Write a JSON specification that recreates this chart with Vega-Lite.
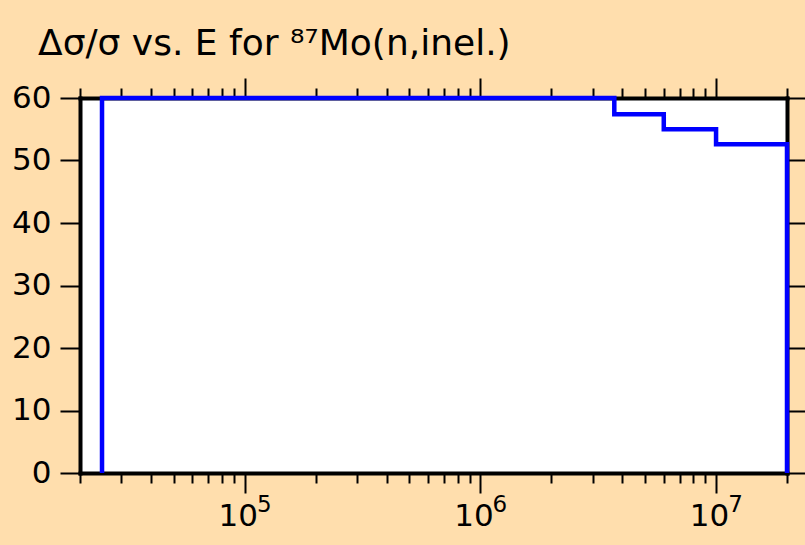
{
  "$schema": "https://vega.github.io/schema/vega-lite/v6.json",
  "width": 707,
  "height": 375,
  "autosize": {"type": "none"},
  "padding": {"left": 80, "top": 98, "right": 18, "bottom": 72},
  "background": "#FFDEAD",
  "title": {
    "text": "Δσ/σ vs. E for ⁸⁷Mo(n,inel.)",
    "anchor": "start",
    "frame": "group",
    "font": "DejaVu Sans",
    "fontSize": 36,
    "fontWeight": "normal",
    "color": "black",
    "dx": -42,
    "offset": 14
  },
  "config": {
    "view": {"fill": "white", "stroke": null},
    "axis": {
      "domainColor": "black",
      "tickColor": "black",
      "tickWidth": 2,
      "labelColor": "black",
      "labelFont": "DejaVu Sans",
      "grid": false,
      "title": null,
      "domainCap": "square",
      "labelFlush": false,
      "labelOverlap": false
    }
  },
  "data": {
    "values": [
      {"i": 0, "E": 24800, "v": 0},
      {"i": 1, "E": 24800, "v": 60},
      {"i": 2, "E": 3700000, "v": 57.4},
      {"i": 3, "E": 6000000, "v": 55.0},
      {"i": 4, "E": 10000000, "v": 52.6},
      {"i": 5, "E": 20000000, "v": 52.6},
      {"i": 6, "E": 20000000, "v": 0}
    ]
  },
  "resolve": {"axis": {"x": "independent", "y": "independent"}},
  "layer": [
    {
      "mark": {"type": "line", "strokeOpacity": 0},
      "encoding": {
        "x": {"field": "E", "type": "quantitative", "scale": {"type": "log", "domain": [20000, 20000000], "nice": false},
          "axis": {"orient": "bottom", "values": [20000, 30000, 40000, 50000, 60000, 70000, 80000, 90000, 200000, 300000, 400000, 500000, 600000, 700000, 800000, 900000, 2000000, 3000000, 4000000, 5000000, 6000000, 7000000, 8000000, 9000000, 20000000], "tickSize": 10, "domain": false, "labels": false}},
        "y": {"field": "v", "type": "quantitative", "scale": {"domain": [0, 60], "nice": false},
          "axis": {"orient": "right", "values": [0, 10, 20, 30, 40, 50, 60], "tickSize": 20, "domainWidth": 4, "labels": false}},
        "order": {"field": "i"}
      }
    },
    {
      "mark": {"type": "line", "strokeOpacity": 0},
      "encoding": {
        "x": {"field": "E", "type": "quantitative",
          "axis": {"orient": "top", "values": [100000, 1000000, 10000000], "tickSize": 20, "domainWidth": 4, "labels": false}},
        "y": {"field": "v", "type": "quantitative", "axis": null},
        "order": {"field": "i"}
      }
    },
    {
      "mark": {"type": "line", "strokeOpacity": 0},
      "encoding": {
        "x": {"field": "E", "type": "quantitative",
          "axis": {"orient": "top", "values": [20000, 30000, 40000, 50000, 60000, 70000, 80000, 90000, 200000, 300000, 400000, 500000, 600000, 700000, 800000, 900000, 2000000, 3000000, 4000000, 5000000, 6000000, 7000000, 8000000, 9000000, 20000000], "tickSize": 10, "domain": false, "labels": false}},
        "y": {"field": "v", "type": "quantitative", "axis": null},
        "order": {"field": "i"}
      }
    },
    {
      "mark": {"type": "line", "strokeOpacity": 0},
      "encoding": {
        "x": {"field": "E", "type": "quantitative",
          "axis": {"orient": "bottom", "values": [100000, 1000000, 10000000], "ticks": false, "domain": false, "labelExpr": "'' + round(log(datum.value) / LN10)", "labelFontSize": 23, "labelPadding": 20, "labelOffset": 19, "labelBaseline": "top"}},
        "y": {"field": "v", "type": "quantitative", "axis": null},
        "order": {"field": "i"}
      }
    },
    {
      "mark": {"type": "line", "color": "#0000FF", "strokeWidth": 4.5, "interpolate": "step-after", "strokeJoin": "miter"},
      "encoding": {
        "x": {"field": "E", "type": "quantitative",
          "axis": {"orient": "bottom", "values": [100000, 1000000, 10000000], "tickSize": 20, "domainWidth": 4, "labelExpr": "'10'", "labelFontSize": 31, "labelPadding": 8, "labelOffset": -7, "labelBaseline": "top"}},
        "y": {"field": "v", "type": "quantitative",
          "axis": {"orient": "left", "values": [0, 10, 20, 30, 40, 50, 60], "tickSize": 20, "domainWidth": 4, "labelFontSize": 31, "labelPadding": 9}},
        "order": {"field": "i"}
      }
    }
  ]
}
